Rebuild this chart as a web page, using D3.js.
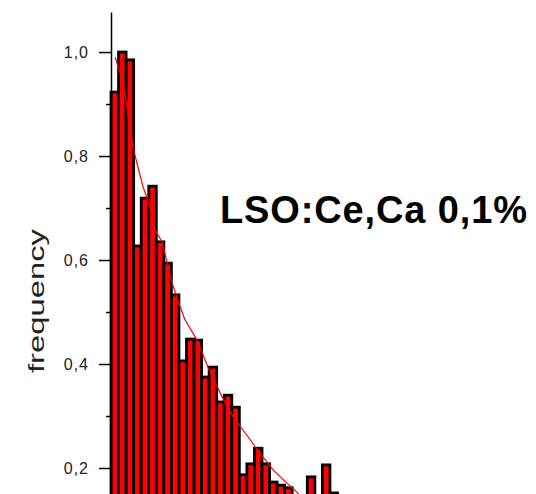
<!DOCTYPE html>
<html>
<head>
<meta charset="utf-8">
<script src="https://cdn.jsdelivr.net/npm/d3@7"></script>
<style>
  body { margin: 0; background: #fff; }
  svg { display: block; }
</style>
</head>
<body>
<div class="chart"></div>
<script>
// histogram bins (normalised frequency)
const freq = [0.923, 1.0, 0.985, 0.627, 0.719, 0.742, 0.635, 0.594, 0.533, 0.406,
  0.448, 0.446, 0.375, 0.394, 0.327, 0.340, 0.317, 0.187, 0.208, 0.238,
  0.208, 0.173, 0.167, 0.162, 0.14, 0.12, 0.183, 0.13, 0.206, 0.152];

// red fit curve, x in bin units
const fitX = [0.55, 1.2, 1.85, 2.9, 4.25, 4.9, 5.85, 6.75, 8.1, 9.15,
  9.8, 11.4, 12.85, 14.7, 16.2, 18.0, 19.7, 21.5, 23.3, 24.6, 26.0];
const fitY = [0.99, 0.96, 0.921, 0.817, 0.74, 0.715, 0.658, 0.635, 0.556, 0.51,
  0.485, 0.446, 0.394, 0.337, 0.298, 0.263, 0.229, 0.196, 0.171, 0.154, 0.13];

const majorTicks = [0.2, 0.4, 0.6, 0.8, 1.0];
const minorTicks = [0.1, 0.3, 0.5, 0.7, 0.9];
const title = "LSO:Ce,Ca 0,1%";
const yLabel = "frequency";

const width = 536, height = 494;

const svg = d3.select(".chart")
  .append("svg")
  .attr("width", width)
  .attr("height", height);

const x = d3.scaleLinear().domain([0, freq.length]).range([111, 111 + freq.length * 7.55]);
const y = d3.scaleLinear().domain([0, 1.077]).range([572, 12]);

svg.selectAll("rect.bar")
  .data(freq)
  .enter()
  .append("rect")
  .attr("class", "bar")
  .attr("x", (d, i) => x(i))
  .attr("width", x(1) - x(0))
  .attr("y", d => y(d))
  .attr("height", d => y(0) - y(d))
  .style("fill", "#ff0000")
  .style("stroke", "#000")
  .style("stroke-width", 2.8);

const line = d3.line()
  .x((d, i) => x(fitX[i]))
  .y(d => y(d));

svg.append("path")
  .datum(fitY)
  .attr("d", line)
  .style("fill", "none")
  .style("stroke", "#ff0000")
  .style("stroke-width", 1.2);

// y axis
const yAxis = svg.append("g")
  .attr("transform", "translate(111,0)")
  .call(d3.axisLeft(y)
    .tickValues(majorTicks)
    .tickSize(12)
    .tickSizeOuter(0)
    .tickPadding(10)
    .tickFormat(d => d3.format(".1f")(d).replace(".", ",")));

yAxis.select(".domain").style("stroke", "#000").style("stroke-width", 1.5);
yAxis.selectAll(".tick line").style("stroke", "#000").style("stroke-width", 1.5);
yAxis.selectAll(".tick text")
  .style("font-family", "Arial, 'Liberation Sans', sans-serif")
  .style("font-size", "16px")
  .style("letter-spacing", "1px")
  .style("fill", "#222");

const yMinor = svg.append("g")
  .attr("transform", "translate(111,0)")
  .call(d3.axisLeft(y).tickValues(minorTicks).tickSize(5).tickSizeOuter(0).tickFormat(""));
yMinor.select(".domain").remove();
yMinor.selectAll(".tick line").style("stroke", "#000").style("stroke-width", 1.5);

svg.append("text")
  .attr("transform", "translate(44,301) rotate(-90)")
  .attr("text-anchor", "middle")
  .style("font-family", "Arial, 'Liberation Sans', sans-serif")
  .style("font-size", "22px")
  .style("fill", "#222")
  .attr("textLength", 144)
  .attr("lengthAdjust", "spacingAndGlyphs")
  .text(yLabel);

svg.append("text")
  .attr("x", 220)
  .attr("y", 223)
  .style("font-family", "Arial, 'Liberation Sans', sans-serif")
  .style("font-size", "38px")
  .style("font-weight", "bold")
  .attr("textLength", 307)
  .text(title);
</script>
</body>
</html>
